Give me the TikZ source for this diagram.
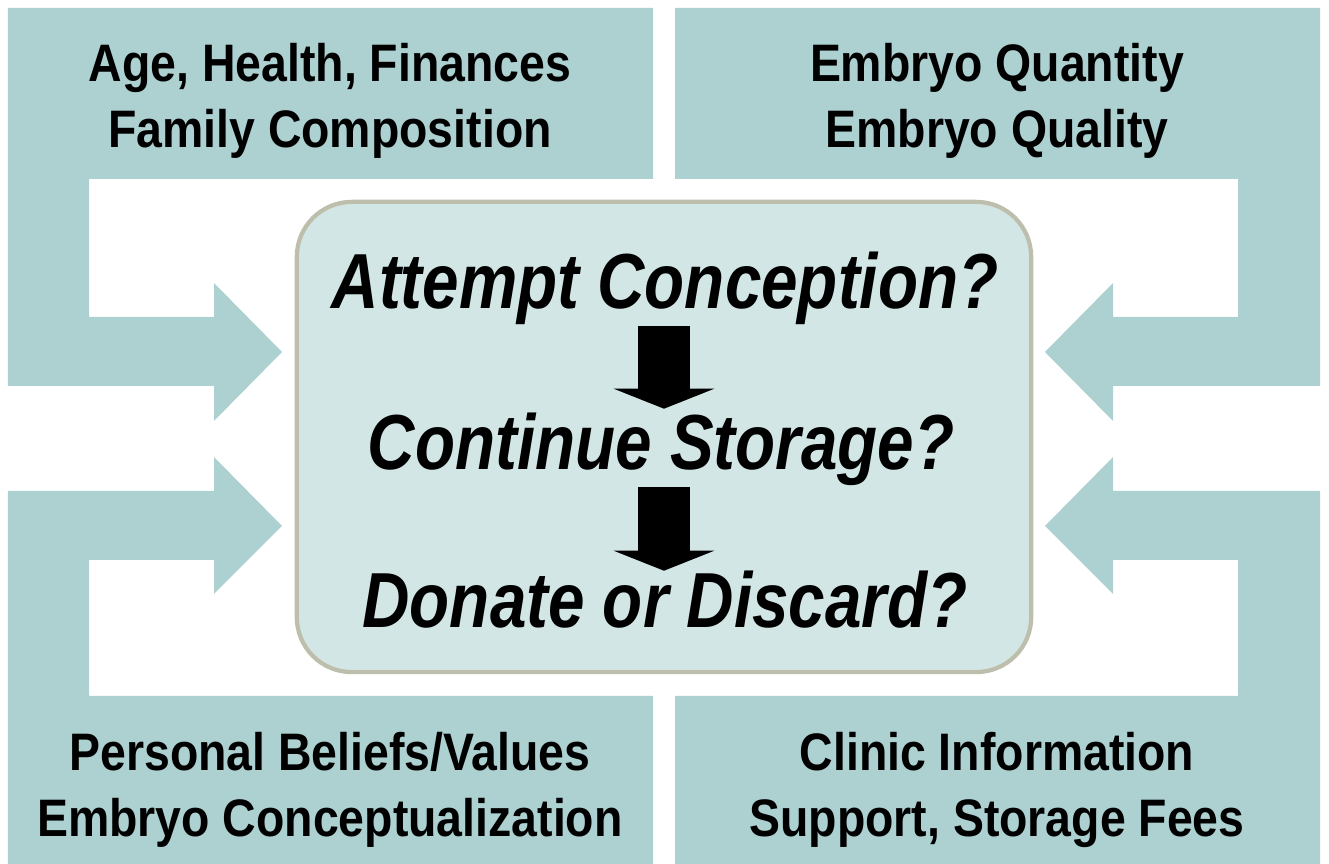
\documentclass[tikz,border=0pt]{standalone}
\usepackage{fontspec}
\setmainfont{Liberation Sans}
\newfontfamily\bandfont{Liberation Sans}[FakeStretch=0.88]
\newfontfamily\askfont{Liberation Sans}[FakeStretch=0.84]
\usetikzlibrary{arrows.meta}
\definecolor{bandteal}{RGB}{173,208,209}
\definecolor{boxfill}{RGB}{210,230,230}
\definecolor{boxrim}{RGB}{190,190,172}

\begin{document}
\begin{tikzpicture}[x=0.01cm, y=-0.01cm,
  band/.style={fill=bandteal},
  bandtext/.style={font=\bandfont\bfseries\fontsize{15}{18.8}\selectfont, align=center, anchor=base, inner sep=0pt},
  ask/.style={font=\askfont\bfseries\itshape\fontsize{22.2}{26}\selectfont, anchor=base, inner sep=0pt},
  down/.style={line width=0.51cm, -{Triangle[length=0.2cm, width=1cm]}}]
\useasboundingbox (0,0) rectangle (1329,864);

% bent arrows, one per corner
\fill[band] (8,8) -- (653,8) -- (653,179) -- (89,179) -- (89,317) -- (214,317) -- (214,283)
  -- (282,352) -- (214,421) -- (214,386) -- (8,386) -- cycle;
\fill[band] (1320,8) -- (675,8) -- (675,179) -- (1238,179) -- (1238,317) -- (1113,317) -- (1113,283)
  -- (1045,352) -- (1113,421) -- (1113,386) -- (1320,386) -- cycle;
\fill[band] (8,864) -- (653,864) -- (653,696) -- (89,696) -- (89,560) -- (214,560) -- (214,594)
  -- (282,526) -- (214,457) -- (214,491) -- (8,491) -- cycle;
\fill[band] (1320,864) -- (675,864) -- (675,696) -- (1238,696) -- (1238,560) -- (1113,560) -- (1113,594)
  -- (1045,526) -- (1113,457) -- (1113,491) -- (1320,491) -- cycle;

% anchor=base sits on the last line
\node[bandtext] (personal) at (330,148) {Age, Health, Finances\\Family Composition};
\node[bandtext] (embryo) at (997,148) {Embryo Quantity\\Embryo Quality};
\node[bandtext] (beliefs) at (330,837) {Personal Beliefs/Values\\Embryo Conceptualization};
\node[bandtext] (clinic) at (997,837) {Clinic Information\\Support, Storage Fees};

% the decision box
\node[draw=boxrim, fill=boxfill, line width=1.2pt, rounded corners=0.55cm,
  minimum width=7.34cm, minimum height=4.7cm] (choice) at (664,437) {};

\node[ask] (attempt) at (665,309) {Attempt Conception?};
\node[ask] (storage) at (661,470) {Continue Storage?};
\node[ask] (donate) at (665,628) {Donate or Discard?};

\draw[down, shorten >=0.04cm] (attempt.south -| choice) -- (storage.north -| choice);
\draw[down] (storage.south -| choice) -- (donate.north -| choice);
\end{tikzpicture}
\end{document}
